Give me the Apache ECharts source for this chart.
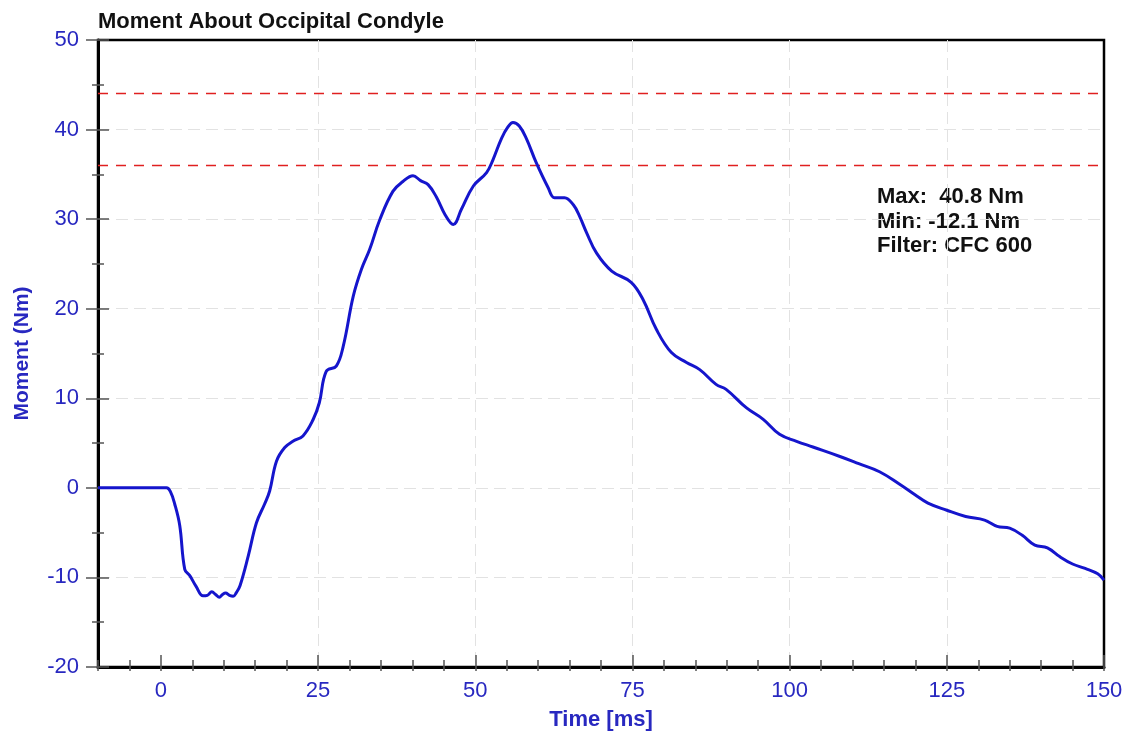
<!DOCTYPE html>
<html>
<head>
<meta charset="utf-8">
<script src="https://cdn.jsdelivr.net/npm/echarts@6/dist/echarts.min.js"></script>
<style>
html,body{margin:0;padding:0;background:#fff;}
#chart{width:1129px;height:736px;}
</style>
</head>
<body>
<div id="chart"></div>
<script>
const timeMs = [-10, -5, 0, 0.9, 1.5, 2.2, 3.0, 3.8, 4.6, 5.6, 6.7, 7.4, 8.1, 8.7, 9.3, 9.8, 10.3, 10.9, 11.5, 12.0, 12.6, 13.9, 15.2, 16.5, 17.3, 18.4, 19.7, 21.0, 22.6, 24.2, 25.2, 26.3, 27.9, 29.0, 30.6, 31.9, 33.2, 34.8, 36.9, 38.5, 40.1, 41.3, 42.5, 43.8, 45.2, 46.5, 47.8, 49.7, 51.8, 52.8, 54.2, 55.2, 56.0, 57.0, 58.1, 59.7, 61.6, 62.6, 64.2, 65.6, 66.6, 67.7, 69.3, 71.7, 74.8, 76.7, 78.8, 81.2, 83.6, 85.7, 88.3, 89.9, 93.1, 95.8, 98.4, 101.1, 103.7, 108, 111, 114.3, 117.5, 120, 122, 125, 128, 131, 133, 135, 137, 139, 141, 143, 145, 147, 149, 150];
const momentNm = [0, 0, 0, 0, -0.4, -1.8, -4.2, -9.1, -9.8, -11.0, -12.05, -12.0, -11.6, -11.9, -12.2, -11.9, -11.75, -12.0, -12.1, -11.7, -10.9, -7.6, -3.9, -1.8, -0.35, 3.0, 4.5, 5.2, 5.8, 7.6, 9.5, 13.0, 13.6, 15.8, 21.4, 24.4, 26.6, 29.9, 33.1, 34.2, 34.85, 34.3, 33.85, 32.5, 30.5, 29.4, 31.1, 33.7, 35.2, 36.6, 39.05, 40.3, 40.8, 40.4, 39.05, 36.3, 33.5, 32.4, 32.4, 31.6, 30.3, 28.5, 26.2, 24.2, 22.95, 21.0, 17.7, 15.1, 14.0, 13.2, 11.55, 11.0, 8.95, 7.65, 5.98, 5.2, 4.56, 3.5, 2.7, 1.8, 0.4, -0.8, -1.7, -2.5, -3.2, -3.6, -4.3, -4.5, -5.3, -6.4, -6.7, -7.7, -8.5, -9.0, -9.6, -10.3];
const xTickLabels = [0, 25, 50, 75, 100, 125, 150];
const limitLines = [44, 36];
const titleText = 'Moment About Occipital Condyle';
const statsText = ['Max:  40.8 Nm', 'Min: -12.1 Nm', 'Filter: CFC 600'];
const xName = 'Time [ms]';
const yName = 'Moment (Nm)';

const FONT = '"Liberation Sans", Arial, sans-serif';
const BLUE_TXT = '#2828c0';
const TICK = {color: '#555', width: 1.5};
const chart = echarts.init(document.getElementById('chart'));
const seriesData = timeMs.map((t, i) => [t, momentNm[i]]);

const gridLine = {show: true, showMinLine: false, showMaxLine: false,
  lineStyle: {color: '#e2e2e2', width: 1, type: [12, 6]}};

const baseX = {type: 'value', min: -10, max: 150, interval: 5, position: 'bottom'};
const baseY = {type: 'value', min: -20, max: 50, interval: 10, position: 'left'};

chart.setOption({
  animation: false,
  backgroundColor: '#fff',
  title: {
    text: titleText, left: 98, top: 11, padding: 0,
    textStyle: {fontFamily: FONT, fontSize: 22, fontWeight: 'bold', color: '#111'}
  },
  grid: {left: 98, right: 25, top: 40, bottom: 68, show: true, borderColor: '#000', borderWidth: 2.5, backgroundColor: 'transparent'},
  xAxis: [Object.assign({}, baseX, {
    name: xName, nameLocation: 'middle', nameGap: 42,
    nameTextStyle: {fontFamily: FONT, fontSize: 22, fontWeight: 'bold', color: BLUE_TXT},
    axisLine: {show: true, onZero: false, lineStyle: {color: '#000', width: 3}},
    axisTick: {show: true, inside: true, length: 12, customValues: xTickLabels, lineStyle: TICK},
    axisLabel: {show: true, margin: 13, fontFamily: FONT, fontSize: 22, color: BLUE_TXT,
      customValues: xTickLabels,
      formatter: v => (xTickLabels.indexOf(v) >= 0) ? String(v) : ''},
    splitLine: gridLine
  }), Object.assign({}, baseX, {
    axisLine: {show: false, onZero: false},
    axisTick: {show: true, inside: true, length: 7, lineStyle: TICK},
    axisLabel: {show: false},
    splitLine: {show: false}
  }), Object.assign({}, baseX, {
    axisLine: {show: false, onZero: false},
    axisTick: {show: true, inside: false, length: 4, lineStyle: TICK},
    axisLabel: {show: false},
    splitLine: {show: false}
  })],
  yAxis: [Object.assign({}, baseY, {
    name: yName, nameLocation: 'middle', nameGap: 65, nameRotate: 90,
    nameTextStyle: {fontFamily: FONT, fontSize: 21, fontWeight: 'bold', color: BLUE_TXT},
    axisLine: {show: true, onZero: false, lineStyle: {color: '#000', width: 3}},
    axisTick: {show: true, inside: true, length: 11, lineStyle: TICK},
    axisLabel: {show: true, margin: 19, fontFamily: FONT, fontSize: 22, color: BLUE_TXT},
    minorTick: {show: true, splitNumber: 2, length: 6, lineStyle: TICK},
    splitLine: gridLine
  }), Object.assign({}, baseY, {
    axisLine: {show: false, onZero: false},
    axisTick: {show: true, inside: false, length: 12, lineStyle: TICK},
    axisLabel: {show: false},
    minorTick: {show: true, splitNumber: 2, length: 6, lineStyle: TICK},
    splitLine: {show: false}
  })],
  graphic: [{
    type: 'text', left: 877, top: 185,
    style: {text: statsText.join('\n'), font: 'bold 22px ' + FONT, fill: '#111', lineHeight: 24.5}
  }],
  series: [{
    type: 'line', data: seriesData, xAxisIndex: 0, yAxisIndex: 0,
    showSymbol: false, smooth: 0.4,
    lineStyle: {color: '#1515cc', width: 3},
    markLine: {
      silent: true, symbol: 'none', animation: false,
      label: {show: false},
      emphasis: {disabled: true},
      data: limitLines.map(v => ({yAxis: v, lineStyle: {color: '#e02020', width: 1.3, type: [10, 8], opacity: 1}}))
    },
    z: 5
  }]
});
</script>
</body>
</html>
